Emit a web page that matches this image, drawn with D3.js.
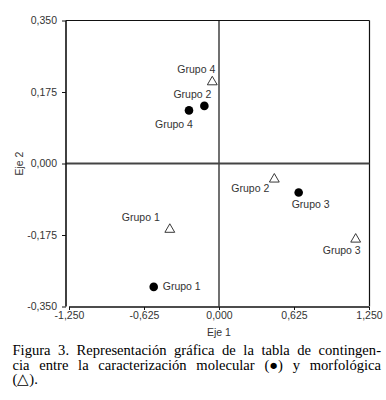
<!DOCTYPE html>
<html>
<head>
<meta charset="utf-8">
<script src="https://cdn.jsdelivr.net/npm/d3@7"></script>
<style>
  body { margin: 0; background: #fff; }
  svg { display: block; }
</style>
</head>
<body>
<div id="chart"></div>
<script>
// categories and coordinates
const groups = ["Grupo 1", "Grupo 2", "Grupo 3", "Grupo 4"];
const molX = [-0.544, -0.122, 0.664, -0.250];
const molY = [-0.302, 0.141, -0.071, 0.130];
const morX = [-0.410, 0.461, 1.139, -0.056];
const morY = [-0.159, -0.036, -0.183, 0.202];
const xTicks = [-1.25, -0.625, 0, 0.625, 1.25];
const yTicks = [-0.35, -0.175, 0, 0.175, 0.35];
const captionLines = [
  "Figura 3. Representación gráfica de la tabla de contingen-",
  "cia entre la caracterización molecular (●) y morfológica",
  "(△)."
];

// label placement (px offsets from the mark)
const molLab = [[9, 3, "start"], [7, -8, "end"], [12, 15, "middle"], [-15, 18, "middle"]];
const morLab = [[-10, -7, "end"], [-5, 14, "end"], [5, 16, "end"], [3, -8, "end"]];

const W = 386, H = 400;
const svg = d3.select("#chart").append("svg")
    .attr("width", W).attr("height", H);

const x = d3.scaleLinear().domain([-1.25, 1.25]).range([69, 369]);
const y = d3.scaleLinear().domain([-0.35, 0.35]).range([306.5, 20.5]);
const fmt = d => d3.format(".3f")(d).replace(".", ",").replace("−", "-");
const axisFont = "'Liberation Sans', Arial, sans-serif";
const ink = "#333";

// frame
svg.append("line").attr("x1", 66).attr("x2", 369.5).attr("y1", y(0.35)).attr("y2", y(0.35))
    .attr("stroke", "#111").attr("stroke-width", 1.2);
svg.append("line").attr("x1", 369.5).attr("x2", 369.5).attr("y1", y(0.35)).attr("y2", y(-0.35))
    .attr("stroke", "#111").attr("stroke-width", 1.2);
// zero lines
svg.append("line").attr("x1", x(0)).attr("x2", x(0)).attr("y1", y(0.35)).attr("y2", y(-0.35))
    .attr("stroke", "#111").attr("stroke-width", 1.2);
svg.append("line").attr("x1", 66).attr("x2", 369.5).attr("y1", y(0)).attr("y2", y(0))
    .attr("stroke", "#444").attr("stroke-width", 2.2);

// y axis
const yAxis = svg.append("g")
    .attr("transform", "translate(66,0)")
    .call(d3.axisLeft(y).tickValues(yTicks).tickFormat(fmt).tickSize(4).tickPadding(5));
yAxis.select(".domain").attr("stroke", "#111").attr("stroke-width", 1.6)
    .attr("d", `M0,${y(0.35)}V${y(-0.35)}`);
yAxis.selectAll(".tick line").attr("stroke", "#111");
yAxis.selectAll("text").attr("font-family", axisFont).attr("font-size", 10.5).attr("fill", ink);

// x axis
const xAxis = svg.append("g")
    .attr("transform", "translate(0,307)")
    .call(d3.axisBottom(x).tickValues(xTicks).tickFormat(fmt).tickSize(3).tickPadding(2));
xAxis.select(".domain").attr("stroke", "#111").attr("stroke-width", 1.6)
    .attr("d", `M${x(-1.25)},0H${x(1.25)}`);
xAxis.selectAll(".tick line").attr("stroke", "#111");
xAxis.selectAll("text").attr("font-family", axisFont).attr("font-size", 10.5).attr("fill", ink);

// axis titles
svg.append("text").attr("x", x(0)).attr("y", 335.5)
    .attr("text-anchor", "middle").attr("font-family", axisFont).attr("font-size", 10.5)
    .attr("fill", ink).text("Eje 1");
svg.append("text").attr("transform", `translate(23,${y(0)}) rotate(-90)`)
    .attr("text-anchor", "middle").attr("font-family", axisFont).attr("font-size", 10.5)
    .attr("fill", ink).text("Eje 2");

// molecular: filled circles, morphological: open triangles
const mol = groups.map((g, i) => ({ g, x: molX[i], y: molY[i], lab: molLab[i] }));
const mor = groups.map((g, i) => ({ g, x: morX[i], y: morY[i], lab: morLab[i] }));

svg.selectAll(".mol").data(mol).join("circle")
    .attr("class", "mol")
    .attr("cx", d => x(d.x)).attr("cy", d => y(d.y))
    .attr("r", 4.3).attr("fill", "#000");

svg.selectAll(".mor").data(mor).join("path")
    .attr("class", "mor")
    .attr("transform", d => `translate(${x(d.x)},${y(d.y) + 1})`)
    .attr("d", d3.symbol().type(d3.symbolTriangle).size(42))
    .attr("fill", "none").attr("stroke", "#222").attr("stroke-width", 0.9);

svg.selectAll(".lab").data(mol.concat(mor)).join("text")
    .attr("class", "lab")
    .attr("x", d => x(d.x) + d.lab[0]).attr("y", d => y(d.y) + d.lab[1])
    .attr("text-anchor", d => d.lab[2])
    .attr("font-family", axisFont).attr("font-size", 10.5).attr("fill", ink)
    .text(d => d.g);

// caption, justified
const capLeft = 12.5, capRight = 381;
captionLines.forEach((line, i) => {
  const words = line.split(" ");
  const yy = 355 + i * 14.5;
  const justify = i < captionLines.length - 1;
  const t = svg.append("g");
  const nodes = words.map(w => t.append("text").attr("y", yy)
      .attr("font-family", "'Liberation Serif', 'Times New Roman', serif")
      .attr("font-size", 14.6).attr("fill", "#000").text(w));
  const widths = nodes.map(n => n.node().getComputedTextLength());
  const total = d3.sum(widths);
  const gap = justify && words.length > 1 ? (capRight - capLeft - total) / (words.length - 1) : 3.5;
  let cx = capLeft;
  nodes.forEach((n, k) => { n.attr("x", cx); cx += widths[k] + gap; });
});
</script>
</body>
</html>
